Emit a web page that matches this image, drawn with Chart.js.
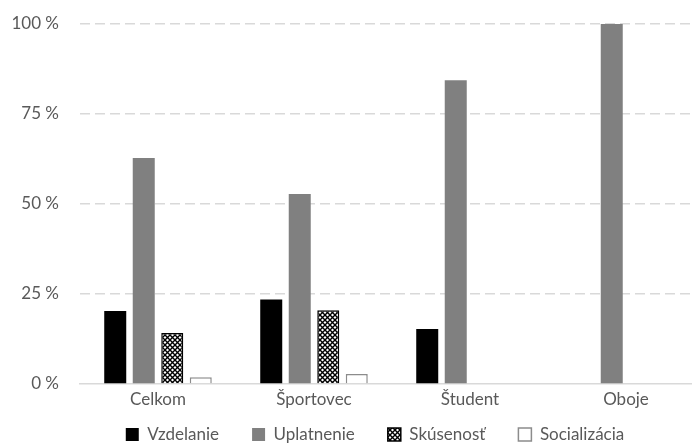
<!DOCTYPE html>
<html>
<head>
<meta charset="utf-8">
<script src="https://cdn.jsdelivr.net/npm/chart.js@4.4.0/dist/chart.umd.min.js"></script>
<style>
  html, body { margin: 0; padding: 0; background: #fff; overflow: hidden; }
  #wrap { width: 754px; height: 444px; }
</style>
</head>
<body>
<div id="wrap"><canvas id="myBarChart" width="754" height="444"></canvas></div>
<script>
// kategórie a hodnoty (%)
var kategorie = ['Celkom', 'Športovec', 'Študent', 'Oboje'];
var vzdelanie = [20.3, 23.5, 15.3, null];
var uplatnenie = [62.8, 52.8, 84.4, 100];
var skusenost = [14.2, 20.5, null, null];
var socializacia = [1.9, 2.8, null, null];
var yTicks = [0, 25, 50, 75, 100];

// vzor pre Skúsenosť (šrafovanie)
function crossPattern() {
    var c = document.createElement('canvas');
    c.width = 5; c.height = 5;
    var g = c.getContext('2d');
    g.fillStyle = '#fff';
    g.fillRect(0, 0, 5, 5);
    g.strokeStyle = '#000';
    g.lineWidth = 1.4;
    g.beginPath();
    g.moveTo(0, 0); g.lineTo(5, 5);
    g.moveTo(5, 0); g.lineTo(0, 5);
    g.stroke();
    return g.createPattern(c, 'repeat');
}

// legenda: pevná výška a posun
var legendPos = {
    id: 'legendPos',
    beforeInit: function(chart) {
        var origFit = chart.legend.fit;
        chart.legend.fit = function() {
            origFit.call(this);
            this.height = 30;
        };
    },
    afterLayout: function(chart) {
        var lg = chart.legend;
        lg.top = 393;
        lg.bottom = 444;
        lg.height = 51;
        lg.left += 23;
        lg.right += 23;
    }
};

document.addEventListener('DOMContentLoaded', function() {
    var ctx = document.getElementById('myBarChart').getContext('2d');
    var textColor = '#595959';
    var fontFam = 'Lato, "Open Sans", sans-serif';

    var data = {
        labels: kategorie,
        datasets: [
            { label: 'Vzdelanie', data: vzdelanie, backgroundColor: '#000', borderColor: '#000', borderWidth: 0 },
            { label: 'Uplatnenie', data: uplatnenie, backgroundColor: '#808080', borderColor: '#808080', borderWidth: 0 },
            { label: 'Skúsenosť', data: skusenost, backgroundColor: crossPattern(), borderColor: '#000', borderWidth: 1.5 },
            { label: 'Socializácia', data: socializacia, backgroundColor: '#fff', borderColor: '#8c8c8c', borderWidth: 1.5 }
        ]
    };

    new Chart(ctx, {
        type: 'bar',
        data: data,
        plugins: [legendPos],
        options: {
            responsive: false,
            animation: false,
            layout: { padding: { top: 24, left: 0, right: 50, bottom: 0 } },
            datasets: {
                bar: { categoryPercentage: 0.731, barPercentage: 0.772 }
            },
            scales: {
                x: {
                    grid: { display: false, drawTicks: false },
                    border: { display: true, color: '#d9d9d9', width: 1.5 },
                    afterFit: function(scale) { scale.height = 30; },
                    ticks: { color: textColor, font: { family: fontFam, size: 17 }, padding: 5 }
                },
                y: {
                    min: 0,
                    max: 100,
                    afterBuildTicks: function(scale) {
                        scale.ticks = yTicks.map(function(v) { return { value: v }; });
                    },
                    afterFit: function(scale) {
                        scale.width = 80;
                        scale.paddingTop = 0;
                        scale.paddingBottom = 0;
                    },
                    border: { display: false, dash: [10, 5] },
                    grid: {
                        drawTicks: false,
                        lineWidth: 1.5,
                        color: function(c) { return c.tick && c.tick.value === 0 ? 'rgba(0,0,0,0)' : '#d9d9d9'; }
                    },
                    ticks: {
                        color: textColor,
                        font: { family: fontFam, size: 17 },
                        padding: 21,
                        callback: function(v) { return v + ' %'; }
                    }
                }
            },
            plugins: {
                legend: {
                    position: 'bottom',
                    labels: {
                        color: textColor,
                        font: { family: fontFam, size: 17 },
                        boxWidth: 13,
                        boxHeight: 13,
                        padding: 33
                    }
                },
                tooltip: { enabled: false }
            }
        }
    });
});
</script>
</body>
</html>
